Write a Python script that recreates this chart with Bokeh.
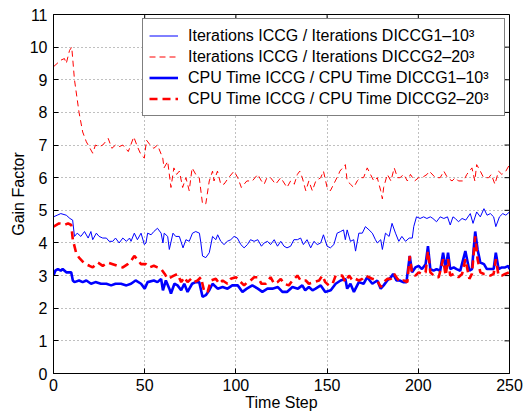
import math
from bokeh.plotting import figure
from bokeh.models import Range1d, FixedTicker, Legend, LegendItem
from bokeh.embed import file_html
from bokeh.resources import INLINE

FONT = "Liberation Sans"

# ---- data ----
iter1_t = [0, 2, 4, 7, 9, 10.5, 11.5, 13, 15, 17,
           19, 20.5, 21.5, 23.5, 25, 27, 29, 30.5, 32.5, 34,
           36, 38, 40, 41.7, 42.5, 44.3, 46, 48, 49.8, 50.7,
           51.6, 53.5, 55, 57, 59, 60, 60.7, 62.6, 63.5, 65.5,
           67, 69, 71, 72.6, 74.4, 76.2, 78, 80, 80.8, 81.7,
           83.5, 85.4, 87.2, 89, 90, 91.7, 93.5, 95.3, 97.2, 99,
           100.8, 102.7, 104.5, 106.3, 108, 110, 112, 114, 115.5, 117.3,
           119, 121, 122.8, 124.6, 126.4, 128, 130, 131.8, 133.7, 135.5,
           137, 139, 141, 142.8, 144.6, 146.5, 148, 150, 151.8, 153.7,
           155.5, 157.4, 159, 160, 161, 162.8, 164.6, 165.6, 167.4, 169.3,
           171, 173, 174.8, 176.5, 177.5, 179.4, 180.3, 182, 184, 185.6,
           187.5, 189.3, 191, 193, 195, 196.7, 197.5, 199, 201, 202.9,
           204.7, 206.6, 208, 210, 212, 214, 216, 217.5, 219, 220.3,
           222, 224, 226, 228.5, 230, 232, 234, 236, 237.7, 239.5,
           241.3, 242.5, 244.5, 246.3, 248, 250]
iter1_gain = [4.8, 4.85, 4.9, 4.85, 4.75, 4.7, 4.2, 4.3, 4.2, 4.35,
              4.15, 4.35, 4.1, 4.3, 4.2, 4.15, 4.15, 4.05, 4.05, 4.15,
              4.0, 4.15, 4.05, 4.15, 4.05, 4.3, 4.1, 4.3, 3.95, 4.0,
              4.3, 4.25, 4.35, 4.45, 4.3, 4.0, 4.3, 4.2, 3.8, 4.3,
              4.2, 4.2, 3.85, 4.1, 4.05, 4.3, 4.35, 4.3, 4.0, 3.6,
              3.55, 3.7, 4.2, 4.1, 4.25, 4.05, 3.95, 4.05, 4.1, 4.2,
              4.15, 3.95, 3.85, 3.95, 4.1, 4.05, 4.1, 3.9, 4.0, 4.05,
              3.95, 4.1, 3.9, 4.05, 3.9, 3.85, 3.9, 4.1, 4.1, 4.15,
              3.95, 4.1, 3.85, 4.05, 3.95, 4.0, 4.25, 3.9, 3.85, 3.95,
              4.3, 4.35, 4.4, 4.1, 4.4, 4.05, 4.1, 3.75, 4.3, 4.3,
              4.5, 4.4, 4.3, 4.1, 4.0, 4.1, 3.8, 4.3, 4.2, 4.6,
              4.3, 4.05, 4.2, 4.05, 4.15, 4.15, 4.5, 4.8, 4.75, 4.8,
              4.75, 4.8, 4.75, 4.65, 4.8, 4.75, 4.8, 4.55, 4.8, 4.75,
              4.65, 4.75, 4.7, 4.9, 4.6, 4.95, 4.8, 5.05, 4.85, 4.9,
              4.8, 4.5, 4.8, 4.9, 4.85, 4.95]

iter2_t = [0, 2, 4, 6, 7, 8.8, 10, 11.5, 14, 16,
           18, 20, 21.5, 23, 25, 27, 30, 32, 34, 36,
           38, 41, 44, 46, 48, 49.8, 51, 53, 55, 57,
           59.9, 60.6, 62.6, 64.4, 66, 67.5, 69, 70.8, 72.6, 74.4,
           76, 78, 79.9, 81.7, 83.5, 85.4, 87.2, 88, 89.9, 91.7,
           93.5, 96, 99, 101, 103, 106, 109, 112, 114, 115.5,
           117, 119, 121.8, 124.6, 128, 130, 132, 133.7, 135, 136.4,
           138.3, 140, 141.9, 143.8, 146.5, 148, 150, 151.8, 154.5, 156.3,
           157, 160, 161, 162.8, 164.6, 166.5, 168.3, 170, 172, 173.8,
           175.6, 177.5, 179.4, 180.3, 181, 183, 185, 186.8, 188.6, 190,
           192, 194, 195.7, 198, 200.2, 202, 204.8, 206, 209.4, 212,
           214, 216, 218.5, 220.3, 222, 224.8, 226.6, 229.4, 231, 232,
           234, 235.8, 238.6, 240, 242, 244, 245.8, 248, 250]
iter2_gain = [9.4, 9.5, 9.6, 9.65, 9.5, 9.9, 10.0, 9.0, 8.0, 7.4,
              7.1, 6.9, 6.75, 7.0, 6.95, 7.0, 7.2, 6.9, 7.0, 6.95,
              7.0, 6.8, 7.25, 6.95, 6.7, 6.6, 7.15, 7.0, 6.9, 7.0,
              6.6, 6.3, 6.5, 5.7, 6.3, 6.1, 6.2, 5.7, 6.0, 5.6,
              6.3, 6.1, 6.0, 5.2, 5.2, 5.9, 6.2, 5.9, 6.2, 5.8,
              5.8, 6.0, 6.2, 6.0, 5.7, 5.9, 5.9, 6.1, 5.9, 5.8,
              6.0, 6.0, 5.8, 6.0, 5.7, 5.9, 5.8, 6.1, 6.2, 6.0,
              5.6, 5.9, 5.6, 5.9, 6.0, 6.2, 5.7, 5.6, 5.9, 6.1,
              6.2, 6.4, 5.9, 5.8, 5.7, 5.9, 6.0, 6.0, 6.3, 6.1,
              5.9, 6.0, 5.6, 5.35, 5.7, 6.1, 5.9, 6.3, 6.0, 6.0,
              6.1, 5.9, 6.1, 5.9, 6.0, 6.0, 6.1, 6.2, 6.0, 6.0,
              6.2, 6.0, 5.9, 6.0, 5.9, 5.9, 6.1, 6.3, 5.9, 6.4,
              6.2, 6.0, 6.0, 6.1, 5.8, 6.2, 6.1, 6.2, 6.4]

cpu1_t = [0, 1, 2.4, 4, 5, 7, 9.7, 10.6, 11.5, 14,
          16, 18, 20.6, 23, 26, 29, 31.6, 34, 37, 40,
          42.5, 45, 48, 50, 51.6, 55, 57, 59, 60, 61.6,
          63.5, 64.4, 66.3, 68, 70, 71.7, 73.5, 76, 78, 79.9,
          81.7, 83.5, 85.4, 87.2, 90, 92.7, 95.4, 98, 101, 103.6,
          106, 109, 112, 114.5, 117.3, 120, 123, 125.5, 128, 131,
          134, 136.4, 138, 140, 142, 143.7, 146.5, 149, 152, 154.7,
          157.4, 160, 161, 162.8, 164.7, 167.4, 170, 172, 174.8, 177.5,
          179.4, 181, 183, 185, 186.2, 188, 189.8, 191.7, 193.5, 195.3,
          196.6, 198.4, 200.2, 202, 204, 205.3, 206.6, 208.4, 210, 212,
          213.6, 215, 216.3, 217.5, 219.4, 221, 223, 225.8, 228, 229.4,
          231.2, 232.5, 234, 236, 237.6, 239.5, 241.3, 242.5, 244, 245.8,
          247.6, 249.4, 250]
cpu1_gain = [3.0, 3.15, 3.2, 3.15, 3.2, 3.1, 3.1, 2.85, 2.8, 2.85,
             2.8, 2.85, 2.75, 2.8, 2.75, 2.75, 2.7, 2.75, 2.75, 2.7,
             2.75, 2.85, 2.75, 2.6, 2.8, 2.85, 2.8, 2.9, 2.55, 2.85,
             2.6, 2.45, 2.75, 2.7, 2.55, 2.75, 2.5, 2.75, 2.8, 2.8,
             2.35, 2.4, 2.55, 2.75, 2.6, 2.65, 2.6, 2.7, 2.7, 2.5,
             2.6, 2.7, 2.6, 2.5, 2.6, 2.6, 2.65, 2.5, 2.5, 2.65,
             2.6, 2.7, 2.55, 2.65, 2.55, 2.6, 2.7, 2.5, 2.55, 2.75,
             2.85, 2.9, 2.6, 2.75, 2.5, 2.8, 2.75, 2.95, 2.75, 2.85,
             2.6, 2.7, 2.85, 2.95, 3.05, 2.85, 2.85, 2.8, 2.8, 3.6,
             3.1, 3.25, 3.3, 3.2, 3.35, 3.9, 3.2, 3.15, 3.2, 3.15,
             3.7, 3.2, 3.7, 3.2, 3.25, 3.2, 3.15, 3.75, 3.15, 3.2,
             4.35, 3.8, 3.4, 3.35, 3.2, 3.2, 3.2, 3.7, 3.2, 3.25,
             3.25, 3.3, 3.2]

cpu2_t = [0, 3, 6, 8, 9.7, 10.6, 12.4, 14, 17, 19.7,
          21.5, 24.3, 27, 29.8, 32.5, 35, 38, 40.7, 42.5, 44.3,
          46, 48, 50.7, 52.6, 55, 57, 59, 61, 62.6, 64.4,
          66, 68, 70, 71.7, 73.5, 75.4, 77, 79, 80.8, 82.7,
          84.5, 86.3, 89, 91, 92.7, 95.4, 97.2, 100, 101.7, 104.5,
          106.3, 108, 110, 112, 114, 116.4, 119, 121, 122.8, 124.6,
          126.4, 129, 131, 133.7, 135.5, 138.3, 140, 142.8, 145.6, 147.4,
          149, 151, 153, 154.7, 156.4, 158.3, 160, 162, 164, 165.6,
          167.4, 169.3, 171, 173, 174.8, 177.5, 179.4, 181, 183, 185,
          186.8, 188.6, 190.4, 192, 194, 195.3, 196.6, 198.4, 200.2, 202,
          204, 205.3, 206.6, 209.4, 211.2, 213.6, 215, 216.3, 217.5, 219.4,
          222, 224, 225.8, 228, 229.4, 231.2, 232.5, 234, 236, 237.6,
          239.5, 241.3, 242.5, 244, 245.8, 247.6, 250]
cpu2_gain = [4.5, 4.6, 4.55, 4.6, 4.55, 4.1, 3.7, 3.55, 3.37, 3.3,
             3.25, 3.4, 3.3, 3.4, 3.35, 3.3, 3.25, 3.35, 3.45, 3.6,
             3.5, 3.35, 3.35, 3.25, 3.3, 3.25, 3.2, 3.05, 2.9, 2.95,
             3.0, 3.05, 2.8, 2.95, 2.8, 2.9, 2.8, 2.85, 2.95, 2.5,
             2.5, 2.85, 2.9, 2.75, 2.85, 2.75, 2.9, 2.95, 2.85, 2.7,
             2.8, 2.85, 2.95, 2.95, 2.75, 2.75, 2.95, 2.75, 2.8, 2.9,
             2.75, 2.7, 2.85, 3.0, 2.85, 2.85, 2.75, 2.8, 2.85, 3.0,
             2.8, 2.7, 2.75, 3.0, 3.0, 3.0, 2.8, 3.0, 2.85, 2.9,
             2.85, 2.9, 3.0, 2.95, 2.9, 2.85, 2.65, 2.8, 2.9, 2.9,
             3.05, 2.9, 2.8, 2.85, 2.8, 3.6, 3.05, 3.0, 3.1, 3.05,
             3.1, 3.75, 3.1, 2.95, 2.95, 3.5, 3.0, 3.5, 3.0, 3.05,
             2.95, 3.05, 3.5, 2.9, 3.05, 4.2, 3.5, 3.1, 3.05, 3.05,
             3.0, 3.05, 3.5, 3.0, 3.0, 3.05, 3.1]

labels = [
    "Iterations ICCG / Iterations DICCG1\u201310\u00b3",
    "Iterations ICCG / Iterations DICCG2\u201320\u00b3",
    "CPU Time ICCG / CPU Time DICCG1\u201310\u00b3",
    "CPU Time ICCG / CPU Time DICCG2\u201320\u00b3",
]
x_ticks = [0, 50, 100, 150, 200, 250]
y_ticks = [0, 1, 2, 3, 4, 5, 6, 7, 8, 9, 10, 11]
x_min, x_max = 0, 250
y_min, y_max = 0, 11

for a, b in [(iter1_t, iter1_gain), (iter2_t, iter2_gain), (cpu1_t, cpu1_gain), (cpu2_t, cpu2_gain)]:
    assert len(a) == len(b), (len(a), len(b))

# ---- figure ----
p = figure(width=524, height=417, x_range=Range1d(x_min, x_max), y_range=Range1d(y_min, y_max),
           output_backend="svg", toolbar_location=None,
           min_border_left=53, min_border_right=15, min_border_top=14, min_border_bottom=44)
p.background_fill_color = "white"
p.border_fill_color = "white"
p.outline_line_color = "black"
p.outline_line_width = 1
p.outline_line_alpha = 1

xt = FixedTicker(ticks=x_ticks)
yt = FixedTicker(ticks=y_ticks)

for ax in (p.xaxis[0], p.yaxis[0]):
    ax.major_tick_in = 5
    ax.major_tick_out = 0
    ax.minor_tick_line_color = None
    ax.axis_line_color = "black"
    ax.major_tick_line_color = "black"
    ax.major_label_text_font = FONT
    ax.major_label_text_font_size = "16px"
    ax.major_label_text_color = "black"
    ax.axis_label_text_font = FONT
    ax.axis_label_text_font_size = "16px"
    ax.axis_label_text_font_style = "normal"
    ax.axis_label_text_color = "black"
p.xaxis[0].ticker = xt
p.yaxis[0].ticker = yt
p.xaxis[0].axis_label = "Time Step"
p.yaxis[0].axis_label = "Gain Factor"
p.xaxis[0].major_label_standoff = 5
p.xaxis[0].axis_label_standoff = 0
p.yaxis[0].major_label_standoff = 6
p.yaxis[0].axis_label_standoff = 0

p.xgrid.ticker = xt
p.ygrid.ticker = yt
for g in (p.xgrid[0], p.ygrid[0]):
    g.grid_line_color = "#808080"
    g.grid_line_dash = "1 3"
    g.grid_line_width = 1
    g.grid_line_alpha = 1

# inward tick marks on the top and right edges of the box
p.ray(x=x_ticks, y=[y_max] * len(x_ticks), length=5, length_units="screen",
      angle=-math.pi / 2, line_color="black", line_width=1)
p.ray(x=[x_max] * len(y_ticks), y=y_ticks, length=5, length_units="screen",
      angle=math.pi, line_color="black", line_width=1)

r1 = p.line(iter1_t, iter1_gain, line_color="#0000ff", line_width=1)
r2 = p.line(iter2_t, iter2_gain, line_color="#ff0000", line_width=1, line_dash="6 4")
r3 = p.line(cpu1_t, cpu1_gain, line_color="#0000ff", line_width=2.6)
r4 = p.line(cpu2_t, cpu2_gain, line_color="#ff0000", line_width=2.6, line_dash="8 5")

legend = Legend(items=[LegendItem(label=labels[0], renderers=[r1]),
                       LegendItem(label=labels[1], renderers=[r2]),
                       LegendItem(label=labels[2], renderers=[r3]),
                       LegendItem(label=labels[3], renderers=[r4])],
                location="top_right", margin=4, padding=6, spacing=0,
                glyph_width=29, glyph_height=21, label_height=21, label_width=310,
                label_standoff=10, label_text_font=FONT, label_text_font_size="16px",
                label_text_color="black", border_line_color="black", border_line_width=1,
                background_fill_color="white", background_fill_alpha=1)
p.add_layout(legend)

open("out.html", "w").write(file_html(p, INLINE))
